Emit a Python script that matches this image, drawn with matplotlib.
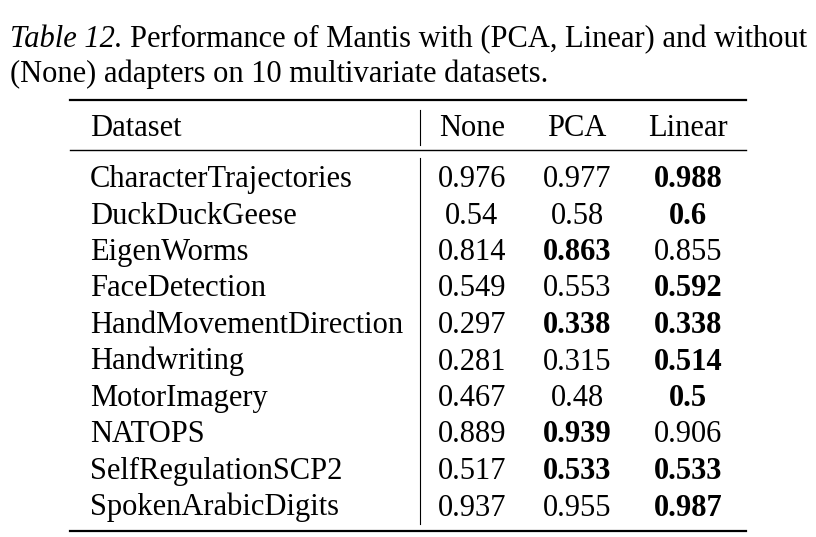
import matplotlib.pyplot as plt

plt.rcParams['font.family'] = ['Liberation Serif', 'DejaVu Serif']

datasets = ['CharacterTrajectories', 'DuckDuckGeese', 'EigenWorms', 'FaceDetection',
            'HandMovementDirection', 'Handwriting', 'MotorImagery', 'NATOPS',
            'SelfRegulationSCP2', 'SpokenArabicDigits']
none_vals = ['0.976', '0.54', '0.814', '0.549', '0.297', '0.281', '0.467', '0.889', '0.517', '0.937']
pca_vals = ['0.977', '0.58', '0.863', '0.553', '0.338', '0.315', '0.48', '0.939', '0.533', '0.955']
linear_vals = ['0.988', '0.6', '0.855', '0.592', '0.338', '0.514', '0.5', '0.906', '0.533', '0.987']
headers = ['Dataset', 'None', 'PCA', 'Linear']

W, H = 816, 537
fig = plt.figure(figsize=(W / 100, H / 100), dpi=100)
ax = fig.add_axes([0, 0, 1, 1])
ax.set_xlim(0, W)
ax.set_ylim(H, 0)
ax.axis('off')

fs = 22

# caption
t = ax.text(10, 47, 'Table 12.', fontsize=fs, style='italic', va='baseline')
r = fig.canvas.get_renderer()
bb = t.get_window_extent(r)
ax.text(bb.x1 + 8, 47, 'Performance of Mantis with (PCA, Linear) and without', fontsize=fs, va='baseline')
ax.text(10, 82, '(None) adapters on 10 multivariate datasets.', fontsize=fs, va='baseline')

# rules
x0, x1 = 70, 746
ax.plot([x0, x1], [100, 100], color='black', lw=1.6)
ax.plot([x0, x1], [150, 150], color='black', lw=1.0)
ax.plot([x0, x1], [531, 531], color='black', lw=1.6)
ax.plot([420, 420], [110, 145], color='black', lw=0.8)
ax.plot([420, 420], [158, 524], color='black', lw=0.8)

col_x = [472, 577, 688]
hy = 136
ax.text(90, hy, headers[0], fontsize=fs, va='baseline', ha='left')
for cx, h in zip(col_x, headers[1:]):
    ax.text(cx, hy, h, fontsize=fs, va='baseline', ha='center')

y0, dy = 187, 36.5
for i, name in enumerate(datasets):
    y = y0 + i * dy
    ax.text(90, y, name, fontsize=fs, va='baseline', ha='left')
    row = [none_vals[i], pca_vals[i], linear_vals[i]]
    best = max(float(v) for v in row)
    for cx, v in zip(col_x, row):
        ax.text(cx, y, v, fontsize=fs, va='baseline', ha='center',
                weight='bold' if float(v) == best else 'normal')

fig.savefig('out.png', dpi=100)
